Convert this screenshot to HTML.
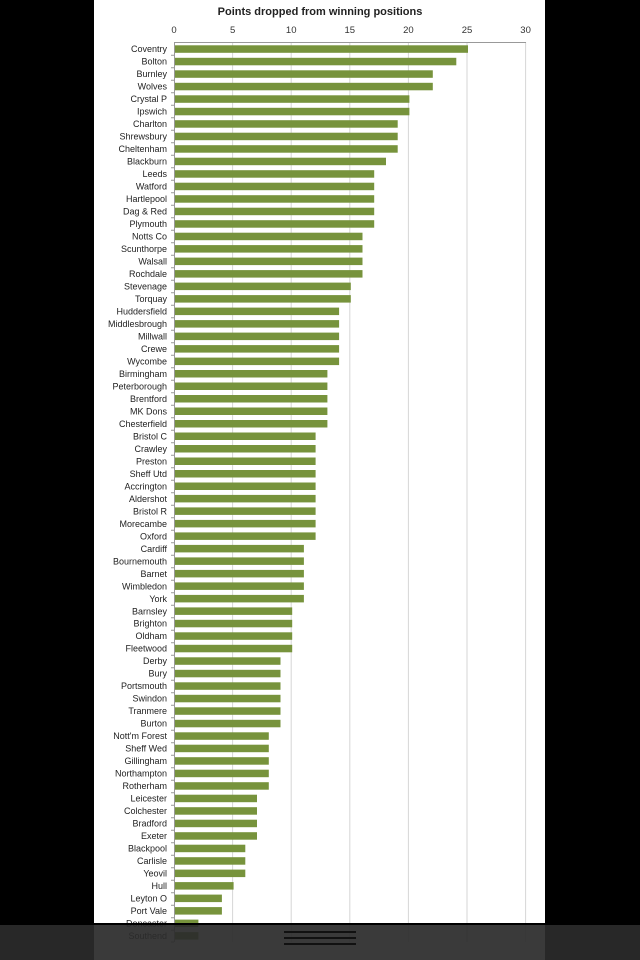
<!DOCTYPE html>
<html><head><meta charset="utf-8"><style>
html,body{margin:0;padding:0;background:#000;}
svg{display:block;}
text{font-family:"Liberation Sans",sans-serif;}
</style></head><body>
<svg width="640" height="960" viewBox="0 0 640 960" xmlns="http://www.w3.org/2000/svg">
<rect x="0" y="0" width="640" height="960" fill="#000"/>
<rect x="94" y="0" width="451" height="960" fill="#fff"/>
<text x="320" y="15" text-anchor="middle" font-size="11" font-weight="bold" fill="#222">Points dropped from winning positions</text>
<g font-size="9.5" fill="#333" text-anchor="middle">
<text x="174" y="33">0</text><text x="232.6" y="33">5</text><text x="291.2" y="33">10</text><text x="349.8" y="33">15</text><text x="408.4" y="33">20</text><text x="467" y="33">25</text><text x="525.6" y="33">30</text>
</g>
<g stroke="#d6d6d6" stroke-width="1">
<line x1="232.6" y1="42" x2="232.6" y2="942"/><line x1="291.2" y1="42" x2="291.2" y2="942"/><line x1="349.8" y1="42" x2="349.8" y2="942"/><line x1="408.4" y1="42" x2="408.4" y2="942"/><line x1="467" y1="42" x2="467" y2="942"/><line x1="525.6" y1="42" x2="525.6" y2="942"/>
</g>
<line x1="174" y1="42.5" x2="526" y2="42.5" stroke="#999"/>
<line x1="174.5" y1="42" x2="174.5" y2="942" stroke="#999"/>
<path d="M171 55.2h3M171 67.7h3M171 80.2h3M171 92.7h3M171 105.2h3M171 117.7h3M171 130.2h3M171 142.7h3M171 155.2h3M171 167.7h3M171 180.2h3M171 192.7h3M171 205.2h3M171 217.7h3M171 230.2h3M171 242.7h3M171 255.2h3M171 267.7h3M171 280.2h3M171 292.7h3M171 305.2h3M171 317.7h3M171 330.2h3M171 342.7h3M171 355.2h3M171 367.7h3M171 380.2h3M171 392.7h3M171 405.2h3M171 417.7h3M171 430.2h3M171 442.7h3M171 455.2h3M171 467.7h3M171 480.2h3M171 492.7h3M171 505.2h3M171 517.7h3M171 530.2h3M171 542.7h3M171 555.2h3M171 567.7h3M171 580.2h3M171 592.7h3M171 605.2h3M171 617.7h3M171 630.2h3M171 642.7h3M171 655.2h3M171 667.7h3M171 680.2h3M171 692.7h3M171 705.2h3M171 717.7h3M171 730.2h3M171 742.7h3M171 755.2h3M171 767.7h3M171 780.2h3M171 792.7h3M171 805.2h3M171 817.7h3M171 830.2h3M171 842.7h3M171 855.2h3M171 867.7h3M171 880.2h3M171 892.7h3M171 905.2h3M171 917.7h3M171 930.2h3M171 942h3" stroke="#999" stroke-width="1"/>
<g fill="#77933c">
<rect x="175" y="45.3" width="293" height="7.5"/>
<rect x="175" y="57.8" width="281.3" height="7.5"/>
<rect x="175" y="70.3" width="257.8" height="7.5"/>
<rect x="175" y="82.8" width="257.8" height="7.5"/>
<rect x="175" y="95.3" width="234.4" height="7.5"/>
<rect x="175" y="107.8" width="234.4" height="7.5"/>
<rect x="175" y="120.2" width="222.7" height="7.5"/>
<rect x="175" y="132.7" width="222.7" height="7.5"/>
<rect x="175" y="145.2" width="222.7" height="7.5"/>
<rect x="175" y="157.7" width="211" height="7.5"/>
<rect x="175" y="170.2" width="199.2" height="7.5"/>
<rect x="175" y="182.7" width="199.2" height="7.5"/>
<rect x="175" y="195.2" width="199.2" height="7.5"/>
<rect x="175" y="207.7" width="199.2" height="7.5"/>
<rect x="175" y="220.2" width="199.2" height="7.5"/>
<rect x="175" y="232.7" width="187.5" height="7.5"/>
<rect x="175" y="245.1" width="187.5" height="7.5"/>
<rect x="175" y="257.6" width="187.5" height="7.5"/>
<rect x="175" y="270.1" width="187.5" height="7.5"/>
<rect x="175" y="282.6" width="175.8" height="7.5"/>
<rect x="175" y="295.1" width="175.8" height="7.5"/>
<rect x="175" y="307.6" width="164.1" height="7.5"/>
<rect x="175" y="320.1" width="164.1" height="7.5"/>
<rect x="175" y="332.6" width="164.1" height="7.5"/>
<rect x="175" y="345.1" width="164.1" height="7.5"/>
<rect x="175" y="357.6" width="164.1" height="7.5"/>
<rect x="175" y="370" width="152.4" height="7.5"/>
<rect x="175" y="382.5" width="152.4" height="7.5"/>
<rect x="175" y="395" width="152.4" height="7.5"/>
<rect x="175" y="407.5" width="152.4" height="7.5"/>
<rect x="175" y="420" width="152.4" height="7.5"/>
<rect x="175" y="432.5" width="140.6" height="7.5"/>
<rect x="175" y="445" width="140.6" height="7.5"/>
<rect x="175" y="457.5" width="140.6" height="7.5"/>
<rect x="175" y="470" width="140.6" height="7.5"/>
<rect x="175" y="482.5" width="140.6" height="7.5"/>
<rect x="175" y="494.9" width="140.6" height="7.5"/>
<rect x="175" y="507.4" width="140.6" height="7.5"/>
<rect x="175" y="519.9" width="140.6" height="7.5"/>
<rect x="175" y="532.4" width="140.6" height="7.5"/>
<rect x="175" y="544.9" width="128.9" height="7.5"/>
<rect x="175" y="557.4" width="128.9" height="7.5"/>
<rect x="175" y="569.9" width="128.9" height="7.5"/>
<rect x="175" y="582.4" width="128.9" height="7.5"/>
<rect x="175" y="594.9" width="128.9" height="7.5"/>
<rect x="175" y="607.4" width="117.2" height="7.5"/>
<rect x="175" y="619.8" width="117.2" height="7.5"/>
<rect x="175" y="632.3" width="117.2" height="7.5"/>
<rect x="175" y="644.8" width="117.2" height="7.5"/>
<rect x="175" y="657.3" width="105.5" height="7.5"/>
<rect x="175" y="669.8" width="105.5" height="7.5"/>
<rect x="175" y="682.3" width="105.5" height="7.5"/>
<rect x="175" y="694.8" width="105.5" height="7.5"/>
<rect x="175" y="707.3" width="105.5" height="7.5"/>
<rect x="175" y="719.8" width="105.5" height="7.5"/>
<rect x="175" y="732.3" width="93.8" height="7.5"/>
<rect x="175" y="744.7" width="93.8" height="7.5"/>
<rect x="175" y="757.2" width="93.8" height="7.5"/>
<rect x="175" y="769.7" width="93.8" height="7.5"/>
<rect x="175" y="782.2" width="93.8" height="7.5"/>
<rect x="175" y="794.7" width="82" height="7.5"/>
<rect x="175" y="807.2" width="82" height="7.5"/>
<rect x="175" y="819.7" width="82" height="7.5"/>
<rect x="175" y="832.2" width="82" height="7.5"/>
<rect x="175" y="844.7" width="70.3" height="7.5"/>
<rect x="175" y="857.2" width="70.3" height="7.5"/>
<rect x="175" y="869.6" width="70.3" height="7.5"/>
<rect x="175" y="882.1" width="58.6" height="7.5"/>
<rect x="175" y="894.6" width="46.9" height="7.5"/>
<rect x="175" y="907.1" width="46.9" height="7.5"/>
<rect x="175" y="919.6" width="23.4" height="7.5"/>
<rect x="175" y="932.1" width="23.4" height="7.5"/>
</g>
<g font-size="9" fill="#222" text-anchor="end">
<text x="167" y="52.2">Coventry</text>
<text x="167" y="64.7">Bolton</text>
<text x="167" y="77.2">Burnley</text>
<text x="167" y="89.7">Wolves</text>
<text x="167" y="102.2">Crystal P</text>
<text x="167" y="114.7">Ipswich</text>
<text x="167" y="127.1">Charlton</text>
<text x="167" y="139.6">Shrewsbury</text>
<text x="167" y="152.1">Cheltenham</text>
<text x="167" y="164.6">Blackburn</text>
<text x="167" y="177.1">Leeds</text>
<text x="167" y="189.6">Watford</text>
<text x="167" y="202.1">Hartlepool</text>
<text x="167" y="214.6">Dag &amp; Red</text>
<text x="167" y="227.1">Plymouth</text>
<text x="167" y="239.6">Notts Co</text>
<text x="167" y="252">Scunthorpe</text>
<text x="167" y="264.5">Walsall</text>
<text x="167" y="277">Rochdale</text>
<text x="167" y="289.5">Stevenage</text>
<text x="167" y="302">Torquay</text>
<text x="167" y="314.5">Huddersfield</text>
<text x="167" y="327">Middlesbrough</text>
<text x="167" y="339.5">Millwall</text>
<text x="167" y="352">Crewe</text>
<text x="167" y="364.5">Wycombe</text>
<text x="167" y="376.9">Birmingham</text>
<text x="167" y="389.4">Peterborough</text>
<text x="167" y="401.9">Brentford</text>
<text x="167" y="414.4">MK Dons</text>
<text x="167" y="426.9">Chesterfield</text>
<text x="167" y="439.4">Bristol C</text>
<text x="167" y="451.9">Crawley</text>
<text x="167" y="464.4">Preston</text>
<text x="167" y="476.9">Sheff Utd</text>
<text x="167" y="489.4">Accrington</text>
<text x="167" y="501.8">Aldershot</text>
<text x="167" y="514.3">Bristol R</text>
<text x="167" y="526.8">Morecambe</text>
<text x="167" y="539.3">Oxford</text>
<text x="167" y="551.8">Cardiff</text>
<text x="167" y="564.3">Bournemouth</text>
<text x="167" y="576.8">Barnet</text>
<text x="167" y="589.3">Wimbledon</text>
<text x="167" y="601.8">York</text>
<text x="167" y="614.3">Barnsley</text>
<text x="167" y="626.7">Brighton</text>
<text x="167" y="639.2">Oldham</text>
<text x="167" y="651.7">Fleetwood</text>
<text x="167" y="664.2">Derby</text>
<text x="167" y="676.7">Bury</text>
<text x="167" y="689.2">Portsmouth</text>
<text x="167" y="701.7">Swindon</text>
<text x="167" y="714.2">Tranmere</text>
<text x="167" y="726.7">Burton</text>
<text x="167" y="739.2">Nott'm Forest</text>
<text x="167" y="751.6">Sheff Wed</text>
<text x="167" y="764.1">Gillingham</text>
<text x="167" y="776.6">Northampton</text>
<text x="167" y="789.1">Rotherham</text>
<text x="167" y="801.6">Leicester</text>
<text x="167" y="814.1">Colchester</text>
<text x="167" y="826.6">Bradford</text>
<text x="167" y="839.1">Exeter</text>
<text x="167" y="851.6">Blackpool</text>
<text x="167" y="864.1">Carlisle</text>
<text x="167" y="876.5">Yeovil</text>
<text x="167" y="889">Hull</text>
<text x="167" y="901.5">Leyton O</text>
<text x="167" y="914">Port Vale</text>
<text x="167" y="926.5">Doncaster</text>
<text x="167" y="939">Southend</text>
</g>
<rect x="0" y="924" width="640" height="36" fill="#2b2b2b" fill-opacity="0.93"/>
<rect x="0" y="923" width="640" height="2" fill="#000"/>
<g fill="#111">
<rect x="284" y="931" width="72" height="2"/>
<rect x="284" y="937" width="72" height="2"/>
<rect x="284" y="943" width="72" height="2"/>
</g>
</svg>
</body></html>
